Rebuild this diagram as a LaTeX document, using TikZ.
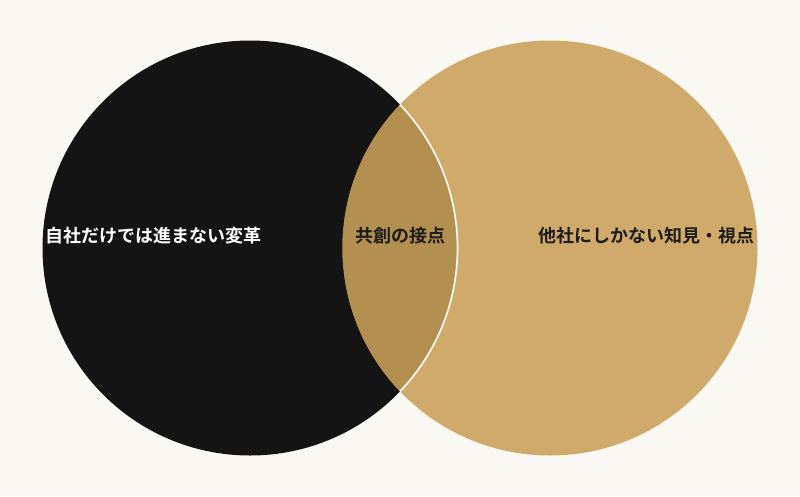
\documentclass[tikz,border=0pt]{standalone}
\usepackage{fontspec}
\setmainfont{Noto Sans CJK JP}[BoldFont={* Bold}]
\definecolor{bgpaper}{HTML}{F9F8F3}
\definecolor{inkblack}{HTML}{141414}
\definecolor{sandgold}{HTML}{CFAA6B}
\definecolor{lensgold}{HTML}{B38F50}
\definecolor{labelink}{HTML}{1C1C1C}
\tikzset{label text/.style={font=\fontsize{18pt}{20pt}\selectfont\bfseries, inner sep=0pt}}

\begin{document}
\begin{tikzpicture}[x=1pt,y=-1pt]
\useasboundingbox (0,0) rectangle (800,496);
\fill[bgpaper] (0,0) rectangle (800,496); %background
%circles
\fill[inkblack] (250,248) circle (207.5);
\fill[sandgold] (550,248) circle (207.5);
%overlap
\begin{scope}
\clip (250,248) circle (207.5);
\fill[lensgold] (550,248) circle (207.5);
\end{scope}
\begin{scope}
\clip (550,248) circle (207.5);
\draw[white,line width=1.6pt] (250,248) circle (207.5);
\end{scope}
%labels
\node[label text,white,anchor=west] (own) at (45,236) {自社だけでは進まない変革};
\node[label text,labelink] (point) at (400,236) {共創の接点};
\node[label text,labelink,anchor=east] (other) at (755,236) {他社にしかない知見・視点};
\end{tikzpicture}
\end{document}
